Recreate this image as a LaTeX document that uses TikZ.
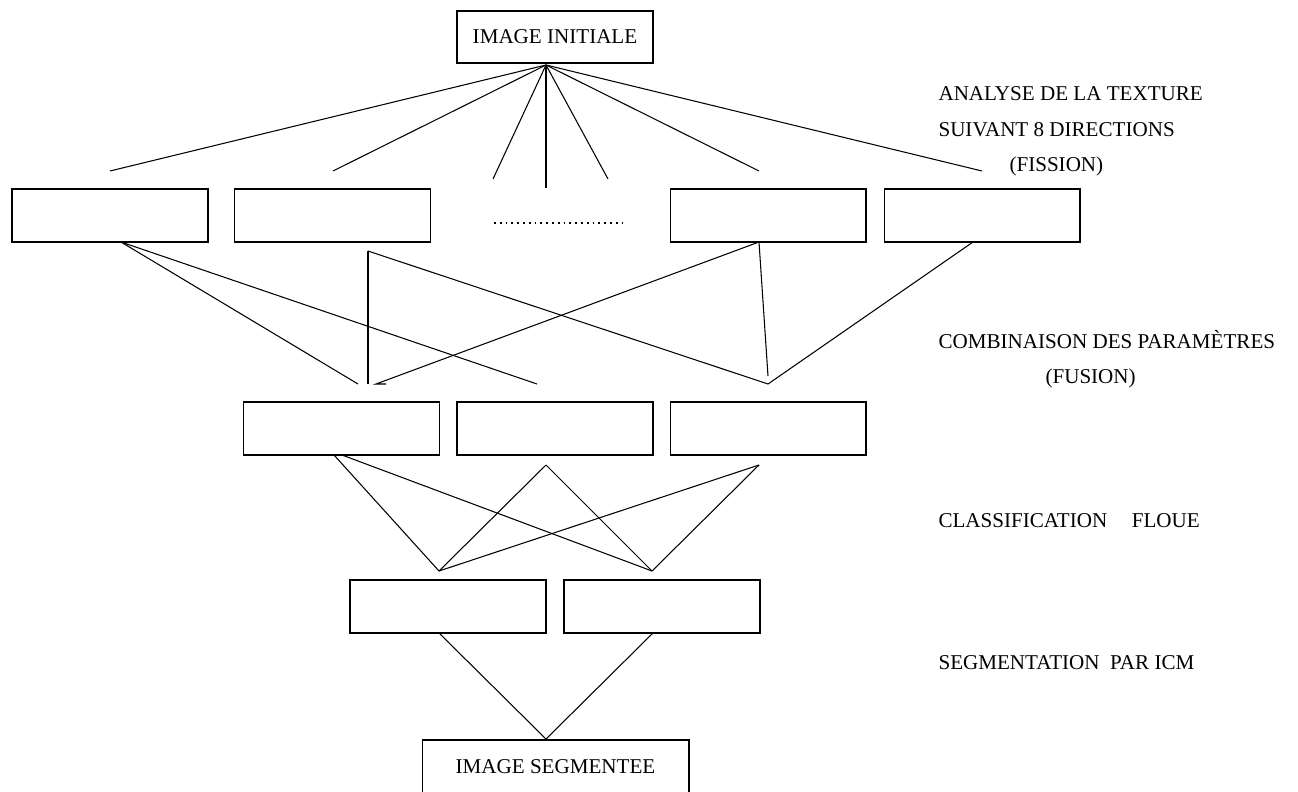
\documentclass[tikz,border=0pt]{standalone}
\usepackage{fontspec}
\setmainfont{Liberation Serif}
\tikzset{
  blk/.style  = {draw, rectangle, minimum width=3.92cm, minimum height=1.06cm, inner sep=0pt},
  wblk/.style = {blk, minimum width=5.34cm},
  lbl/.style  = {anchor=base west, inner sep=0pt},
  dots/.style = {line width=1pt, dash pattern=on 1pt off 2.3pt},
}

\begin{document}
\begin{tikzpicture}[x=0.02cm, y=-0.02cm, line width=0.6pt,
                    every node/.style={font=\fontsize{12}{14}\selectfont}]
  \useasboundingbox (0,0) rectangle (1298,791);

  % input / output images
  \node[blk, minimum height=1.04cm] (init) at (555,37) {IMAGE INITIALE};
  \node[wblk] (seg) at (555.5,766.5) {IMAGE SEGMENTEE};

  % one box per direction, the middle ones left out
  \foreach \i/\x in {1/110, 2/332.5, 4/768, 5/982} {
    \node[blk] (d\i) at (\x,215.5) {};
  }
  \coordinate (dotsL) at (494,223);
  \coordinate (dotsR) at (624,223);
  \draw[dots] (dotsL) -- (dotsR);

  % fission
  \coordinate (top) at (546,65);
  \foreach \j/\x/\y in {1/110/171, 2/333/171, 3/493/179, 4/546/188,
                        5/608/179, 6/759/171, 7/982/171} {
    \coordinate (f\j) at (\x,\y);
    \draw (top) -- (f\j);
  }

  % fused parameters
  \foreach \i/\x in {1/341.5, 2/555, 3/768} {
    \node[blk] (p\i) at (\x,428.5) {};
  }
  \foreach \n/\x/\y in {a1/121/242, a2/368/251, a3/759/242, a4/973/242,
                        b1/358/384, b2/537/384, b3/368/384, b4/768/384,
                        b5/376/384, b6/768/376, b7/386/384} {
    \coordinate (\n) at (\x,\y);
  }
  \foreach \a/\b in {a1/b1, a1/b2, a2/b3, a2/b4, a3/b6, a4/b4} {
    \draw (\a) -- (\b);
  }
  \draw (a3) -- (b5) -- (b7);

  % fuzzy classes
  \foreach \i/\x in {1/448, 2/662} {
    \node[blk] (c\i) at (\x,606.5) {};
  }
  \foreach \n/\x/\y in {u1/334/455, u2/342/455, u3/546/465, u4/759/465,
                        v1/439/571, v2/652/571} {
    \coordinate (\n) at (\x,\y);
  }
  \foreach \a/\b in {u1/v1, u2/v2, u3/v1, u3/v2, u4/v1, u4/v2} {
    \draw (\a) -- (\b);
  }

  % ICM
  \coordinate (w1) at (439,633);
  \coordinate (w2) at (653,633);
  \coordinate (w0) at (546,739);
  \draw (w1) -- (w0) -- (w2);

  % step names
  \node[lbl] (tex1) at (938,100) {ANALYSE DE LA TEXTURE};
  \node[lbl] (tex2) at (938,136) {SUIVANT 8 DIRECTIONS};
  \node[lbl] (tex3) at (1009,171) {(FISSION)};
  \node[lbl] (fus1) at (938,348) {COMBINAISON DES PARAMÈTRES};
  \node[lbl] (fus2) at (1045,383) {(FUSION)};
  \node[lbl] (cls) at (938,527) {CLASSIFICATION\hspace{14pt}FLOUE};
  \node[lbl] (icm) at (938,669) {SEGMENTATION\hspace{6pt}PAR ICM};
\end{tikzpicture}
\end{document}
